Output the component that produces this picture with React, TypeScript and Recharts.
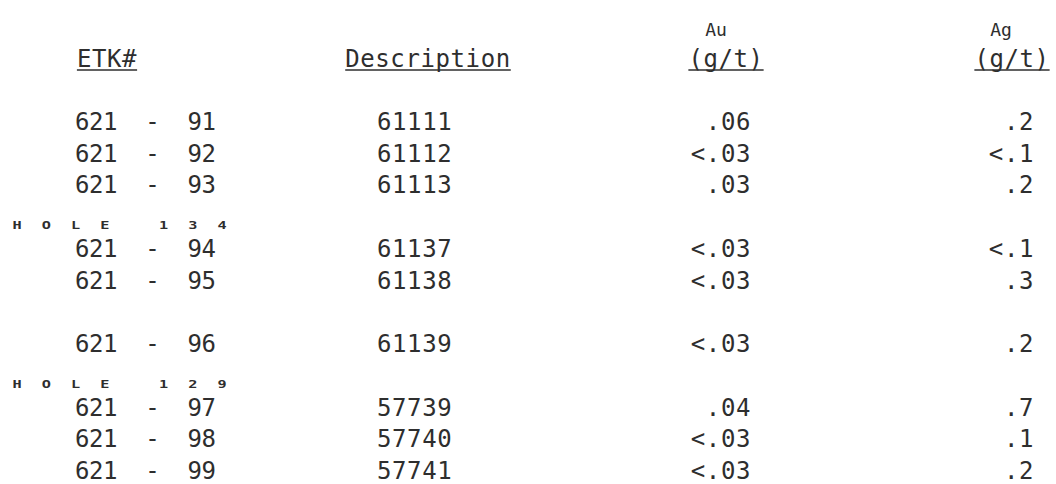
import { ScatterChart, Scatter, XAxis, YAxis } from 'recharts'

// sample sheet values
const etkPrefix = '621'
const etkNumbers = ['91', '92', '93', '94', '95', '96', '97', '98', '99']
const descriptions = ['61111', '61112', '61113', '61137', '61138', '61139', '57739', '57740', '57741']
const auValues = ['.06', '<.03', '.03', '<.03', '<.03', '<.03', '.04', '<.03', '<.03']
const agValues = ['.2', '<.1', '.2', '<.1', '.3', '.2', '.7', '.1', '.2']
const holeLabels = ['HOLE 134', 'HOLE 129']

// order of printed lines: s = sample, h = hole heading, '' = empty line
const sheetLines = ['s', 's', 's', 'h', 's', 's', '', 's', 'h', 's', 's', 's']

const headerTop = ['', '', 'Au', 'Ag']
const headerBottom = ['ETK#', 'Description', '(g/t)', '(g/t)']

// layout (px)
const W = 1056
const H = 484
const FONT = '"DejaVu Sans Mono", monospace'
const INK = '#2e2e2e'
const PITCH = 15.05
const headerX = [107, 428, 726, 1012]
const headerTopX = [0, 0, 716, 1001]
const colX: Record<string, number> = { etk: 75, desc: 377, au: 751, ag: 1034, hole: 17 }
const colAnchor: Record<string, 'start' | 'end'> = { etk: 'start', desc: 'start', au: 'end', ag: 'end', hole: 'start' }

type Cell = { x: number; line: number; col: string; text: string }

const cells: Cell[] = []
let s = 0
let h = 0
sheetLines.forEach((kind, line) => {
  if (kind === 's') {
    cells.push({ x: colX.etk, line, col: 'etk', text: `${etkPrefix}  -  ${etkNumbers[s]}` })
    cells.push({ x: colX.desc, line, col: 'desc', text: descriptions[s] })
    cells.push({ x: colX.au, line, col: 'au', text: auValues[s] })
    cells.push({ x: colX.ag, line, col: 'ag', text: agValues[s] })
    s++
  } else if (kind === 'h') {
    cells.push({ x: colX.hole, line, col: 'hole', text: holeLabels[h] })
    h++
  }
})

const CellText = (props: any) => {
  const { cx, cy, payload } = props
  if (payload.col === 'hole') {
    // spaced out small block capitals, one letter every two print columns
    const chars = payload.text.split('')
    return (
      <g>
        {chars.map((c: string, i: number) =>
          c === ' ' ? null : (
            <text
              key={i}
              transform={`translate(${cx + i * 29.3},${cy + 13}) scale(1.45,1)`}
              fontFamily={FONT}
              fontSize={10.5}
              fontWeight="bold"
              fill={INK}
              textAnchor="middle"
            >
              {c}
            </text>
          )
        )}
      </g>
    )
  }
  return (
    <text
      x={cx}
      y={cy + 9}
      fontFamily={FONT}
      fontSize={24}
      letterSpacing={payload.col === 'etk' ? -0.4 : 0.6}
      fill={INK}
      textAnchor={colAnchor[payload.col]}
      style={{ whiteSpace: 'pre' }}
    >
      {payload.text}
    </text>
  )
}

const HeaderTick = (props: any) => {
  const { x, y, payload } = props
  const i = headerX.indexOf(payload.value)
  if (i < 0) return null
  const label = headerBottom[i]
  const w = label.length * PITCH
  return (
    <g>
      {headerTop[i] && (
        <text x={headerTopX[i]} y={y - 85} fontFamily={FONT} fontSize={18} fill={INK} textAnchor="middle">
          {headerTop[i]}
        </text>
      )}
      <text x={x} y={y - 54} fontFamily={FONT} fontSize={24} letterSpacing={0.6} fill={INK} textAnchor="middle">
        {label}
      </text>
      <line x1={x - w / 2} x2={x + w / 2} y1={y - 51} y2={y - 51} stroke={INK} strokeWidth={1.5} />
    </g>
  )
}

export default function App() {
  return (
    <div style={{ position: 'absolute', left: 0, top: 0, background: '#fff' }}>
      <ScatterChart width={W} height={H} margin={{ top: 0, right: 0, bottom: 14, left: 0 }}>
        <XAxis
          type="number"
          dataKey="x"
          domain={[0, W]}
          orientation="top"
          height={121}
          ticks={headerX}
          interval={0}
          tickSize={0}
          tickMargin={0}
          axisLine={false}
          tickLine={false}
          tick={<HeaderTick />}
        />
        <YAxis type="number" dataKey="line" domain={[0, sheetLines.length - 1]} reversed hide />
        <Scatter data={cells} shape={<CellText />} isAnimationActive={false} />
      </ScatterChart>
    </div>
  )
}
